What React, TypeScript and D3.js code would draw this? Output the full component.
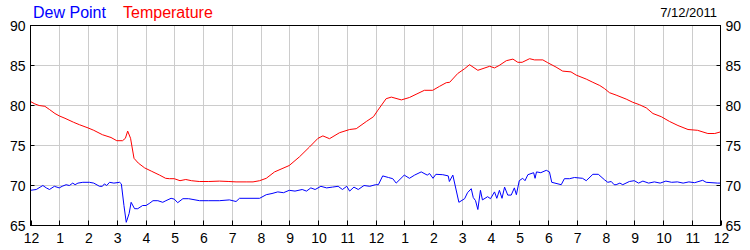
import React from "react";
import * as d3 from "d3";

const hourTicks = d3.range(0, 25);
const hourLabels = ["12","1","2","3","4","5","6","7","8","9","10","11","12","1","2","3","4","5","6","7","8","9","10","11","12"];
const yTicks = [65, 70, 75, 80, 85, 90];
const dateLabel = "7/12/2011";
const seriesNames = ["Dew Point", "Temperature"];

const tempHours = [0,0.15,0.3,0.5,0.66,0.85,1.0,1.2,1.5,1.7,2.0,2.2,2.5,2.8,3.0,3.2,3.3,3.38,3.48,3.6,3.75,3.97,4.2,4.49,4.7,4.83,5.0,5.2,5.4,5.6,5.87,6.2,6.57,6.9,7.15,7.5,7.74,7.97,8.2,8.49,9.0,9.36,9.7,10.0,10.17,10.4,10.75,11.1,11.33,11.68,11.93,12.08,12.37,12.55,12.9,13.18,13.41,13.7,13.99,14.23,14.46,14.58,14.86,15.1,15.27,15.56,15.97,16.14,16.3,16.55,16.78,16.95,17.1,17.36,17.53,17.82,17.99,18.28,18.51,18.8,18.98,19.33,19.56,19.8,19.97,20.14,20.37,20.72,20.95,21.18,21.42,21.65,21.94,22.23,22.52,22.87,23.2,23.56,23.8,24.0];
const tempValues = [80.5,80.2,80.0,79.9,79.5,79.0,78.7,78.4,77.9,77.6,77.2,76.9,76.35,76.0,75.6,75.6,75.9,76.8,75.9,73.4,72.8,72.2,71.8,71.3,70.9,70.85,70.85,70.6,70.75,70.6,70.5,70.5,70.55,70.5,70.45,70.45,70.45,70.6,70.9,71.7,72.5,73.6,74.8,75.9,76.2,75.85,76.6,77.0,77.1,78.0,78.6,79.4,80.85,81.05,80.7,81.0,81.4,81.9,81.9,82.4,82.85,82.9,84.0,84.6,85.1,84.4,84.9,84.7,85.0,85.6,85.8,85.4,85.4,85.85,85.7,85.7,85.35,84.8,84.3,84.2,83.8,83.3,82.9,82.5,82.1,81.6,81.3,80.8,80.4,80.1,79.7,79.0,78.6,78.0,77.5,77.0,76.9,76.5,76.5,76.7];

const dewHours = [0,0.2,0.43,0.55,0.66,0.83,1.0,1.1,1.24,1.35,1.47,1.55,1.65,1.82,2.05,2.2,2.4,2.5,2.57,2.65,2.75,2.9,3.1,3.16,3.25,3.33,3.43,3.5,3.62,3.73,3.9,4.02,4.15,4.26,4.43,4.6,4.71,4.89,5.0,5.12,5.3,5.5,5.88,6.2,6.57,6.92,7.15,7.27,7.97,8.2,8.4,8.6,8.8,9.0,9.2,9.45,9.6,9.75,9.9,10.1,10.3,10.5,10.7,10.85,11.0,11.1,11.25,11.4,11.6,11.8,12.0,12.1,12.25,12.45,12.6,12.72,13.0,13.18,13.36,13.59,13.8,13.88,14.0,14.1,14.34,14.53,14.57,14.69,14.9,15.1,15.2,15.33,15.4,15.48,15.56,15.65,15.72,15.9,16.0,16.14,16.22,16.31,16.4,16.49,16.6,16.72,16.83,16.9,17.0,17.12,17.2,17.3,17.5,17.55,17.6,17.75,17.94,18.05,18.13,18.46,18.57,18.75,18.92,19.2,19.33,19.56,19.75,19.97,20.08,20.2,20.3,20.37,20.5,20.6,20.83,21.0,21.15,21.3,21.5,21.7,21.9,22.1,22.3,22.5,22.7,22.9,23.1,23.38,23.5,23.9,24.0];
const dewValues = [69.4,69.5,70.0,69.7,69.5,69.9,69.7,69.9,70.1,70.0,70.3,70.1,70.3,70.4,70.4,70.3,69.9,69.9,70.2,70.0,70.4,70.3,70.4,70.2,67.5,65.4,66.5,67.9,67.1,67.1,67.5,67.5,67.8,68.1,68.1,67.9,68.1,68.4,68.3,67.85,68.35,68.35,68.1,68.1,68.1,68.2,68.0,68.4,68.4,68.85,69.0,69.2,69.1,69.4,69.3,69.5,69.3,69.7,69.5,69.9,69.7,69.8,69.9,69.5,69.9,69.3,69.8,69.5,70.0,69.9,70.1,70.1,71.2,71.0,70.85,70.3,71.3,70.9,71.3,71.7,71.3,71.5,70.9,71.4,71.35,71.2,70.5,71.3,67.9,68.35,69.1,69.6,68.5,68.1,67.0,69.4,68.2,68.6,68.35,69.2,68.4,69.4,68.4,69.8,68.8,68.8,69.7,68.85,70.6,70.9,70.6,71.35,71.6,70.9,71.7,71.6,71.9,71.7,70.4,70.1,70.85,70.85,71.0,70.9,70.6,71.4,71.4,70.7,70.4,70.5,70.1,70.1,70.3,70.1,70.5,70.6,70.3,70.55,70.3,70.45,70.3,70.55,70.4,70.45,70.3,70.45,70.35,70.65,70.4,70.3,70.3];

const W = 750, H = 250;
const L = 30.5, R = 720.5, T = 25.5, B = 225.5;
const FONT = "Arial, 'Liberation Sans', sans-serif";

export default function App() {
  const x = d3.scaleLinear().domain([0, 24]).range([L, R]);
  const y = d3.scaleLinear().domain([65, 90]).range([B, T]);

  const tempData = tempHours.map((h, i) => [h, tempValues[i]] as [number, number]);
  const dewData = dewHours.map((h, i) => [h, dewValues[i]] as [number, number]);
  const line = d3.line<[number, number]>().x(d => x(d[0])).y(d => y(d[1]));

  return (
    <svg width={W} height={H} style={{ position: "absolute", left: 0, top: 0, background: "#fff" }}>
      <rect x={0} y={0} width={W} height={H} fill="#fff" />
      {/* grid */}
      {hourTicks.slice(1, -1).map(h => (
        <line key={"gx" + h} x1={Math.round(x(h)) + 0.5} x2={Math.round(x(h)) + 0.5} y1={T} y2={B} stroke="#cccccc" strokeWidth={1} />
      ))}
      {yTicks.slice(1, -1).map(v => (
        <line key={"gy" + v} x1={L} x2={R} y1={y(v)} y2={y(v)} stroke="#cccccc" strokeWidth={1} />
      ))}
      {/* ticks */}
      {hourTicks.map(h => (
        <line key={"tx" + h} x1={Math.round(x(h)) + 0.5} x2={Math.round(x(h)) + 0.5} y1={B} y2={B - 5} stroke="#000" strokeWidth={1} />
      ))}
      {yTicks.map(v => (
        <g key={"ty" + v}>
          <line x1={L} x2={L + 4} y1={y(v)} y2={y(v)} stroke="#000" strokeWidth={1} />
          <line x1={R - 4} x2={R} y1={y(v)} y2={y(v)} stroke="#000" strokeWidth={1} />
        </g>
      ))}
      {/* series */}
      <path d={line(tempData) || ""} fill="none" stroke="#ff0000" strokeWidth={1} />
      <path d={line(dewData) || ""} fill="none" stroke="#0000ff" strokeWidth={1} />
      {/* frame */}
      <rect x={L} y={T} width={R - L} height={B - T} fill="none" stroke="#000" strokeWidth={1} />
      {/* y labels */}
      {yTicks.map(v => (
        <g key={"yl" + v} fontFamily={FONT} fontSize={14} fill="#000">
          <text x={L - 5} y={y(v) + 5} textAnchor="end">{v}</text>
          <text x={R + 5} y={y(v) + 5} textAnchor="start">{v}</text>
        </g>
      ))}
      {/* x labels */}
      {hourTicks.map((h, i) => (
        <text key={"xl" + h} x={x(h) + 1} y={243} textAnchor="middle" fontFamily={FONT} fontSize={14} fill="#000">{hourLabels[i]}</text>
      ))}
      {/* legend */}
      <text x={33} y={18} fontFamily={FONT} fontSize={16} fill="#0000ff">{seriesNames[0]}</text>
      <text x={123} y={18} fontFamily={FONT} fontSize={16} fill="#ff0000">{seriesNames[1]}</text>
      <text x={717} y={17} textAnchor="end" fontFamily={FONT} fontSize={13} fill="#000">{dateLabel}</text>
    </svg>
  );
}
